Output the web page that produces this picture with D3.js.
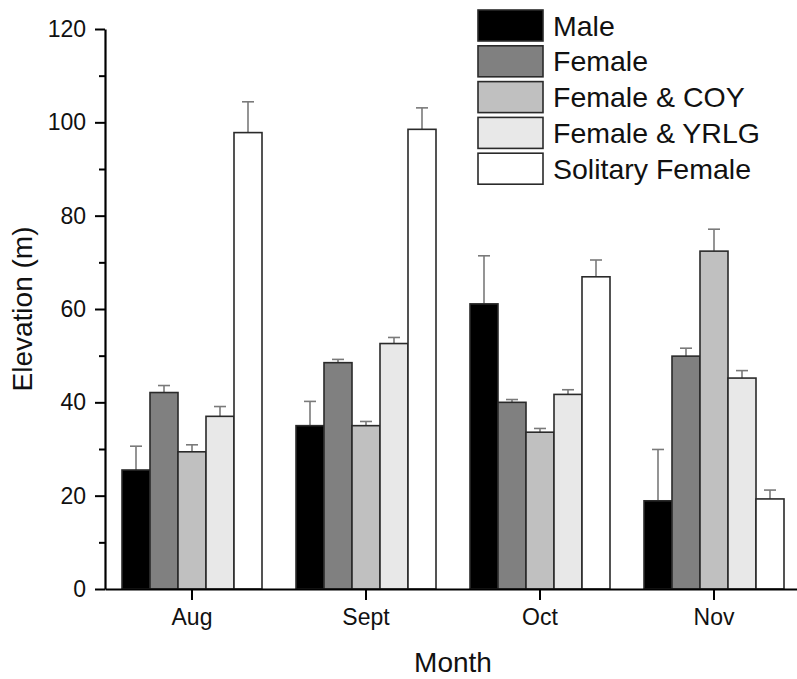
<!DOCTYPE html>
<html><head><meta charset="utf-8">
<script src="https://cdnjs.cloudflare.com/ajax/libs/d3/7.8.5/d3.min.js"></script>
<style>html,body{margin:0;padding:0;background:#fff;}svg{display:block;font-family:"Liberation Sans",Arial,sans-serif;}</style>
</head><body><svg id="c" width="797" height="679"></svg>
<script>
const months = ["Aug", "Sept", "Oct", "Nov"];
const seriesNames = ["Male", "Female", "Female & COY", "Female & YRLG", "Solitary Female"];
const seriesColors = ["#000000", "#808080", "#c0c0c0", "#e8e8e8", "#ffffff"];
const male = [25.5, 35.0, 61.1, 18.9];
const maleErr = [5.1, 5.2, 10.3, 11.0];
const female = [42.1, 48.5, 40.0, 49.9];
const femaleErr = [1.5, 0.7, 0.6, 1.7];
const femaleCoy = [29.4, 35.0, 33.6, 72.4];
const femaleCoyErr = [1.5, 0.9, 0.8, 4.7];
const femaleYrlg = [37.0, 52.6, 41.7, 45.2];
const femaleYrlgErr = [2.1, 1.3, 1.0, 1.6];
const solitary = [97.8, 98.5, 66.9, 19.3];
const solitaryErr = [6.6, 4.6, 3.6, 1.9];
const yTicks = [0, 20, 40, 60, 80, 100, 120];
const yMinorTicks = [10, 30, 50, 70, 90, 110];

const values = [male, female, femaleCoy, femaleYrlg, solitary];
const errors = [maleErr, femaleErr, femaleCoyErr, femaleYrlgErr, solitaryErr];

const svg = d3.select("#c");
const mLeft = 105, mRight = 801, mTop = 29, mBottom = 589;

const x = d3.scaleBand().domain(months).range([mLeft, mRight]).padding(0);
const groupW = 140;
const xs = d3.scaleBand().domain(seriesNames).range([0, groupW]).padding(0);
const y = d3.scaleLinear().domain([0, 120]).range([mBottom, mTop]);

// bars
months.forEach((m, mi) => {
  const gx = x(m) + x.bandwidth() / 2 - groupW / 2;
  seriesNames.forEach((s, si) => {
    const v = values[si][mi], e = errors[si][mi];
    const bx = gx + xs(s), bw = xs.bandwidth();
    const cx = bx + bw / 2;
    svg.append("line").attr("x1", cx).attr("x2", cx).attr("y1", y(v)).attr("y2", y(v + e))
      .attr("stroke", "#7a7a7a").attr("stroke-width", 1.6);
    svg.append("line").attr("x1", cx - 6).attr("x2", cx + 6).attr("y1", y(v + e)).attr("y2", y(v + e))
      .attr("stroke", "#7a7a7a").attr("stroke-width", 1.6);
    svg.append("rect").attr("x", bx).attr("y", y(v)).attr("width", bw).attr("height", y(0) - y(v))
      .attr("fill", seriesColors[si]).attr("stroke", "#2a2a2a").attr("stroke-width", 1.6);
  });
});

// y axis
const yAxis = svg.append("g").attr("transform", `translate(${mLeft},0)`)
  .call(d3.axisLeft(y).tickValues(yTicks).tickSize(10).tickPadding(9).tickSizeOuter(0));
yAxis.selectAll(".tick text").attr("font-size", 23).attr("fill", "#111").attr("font-family", "Liberation Sans, Arial, sans-serif");
yAxis.selectAll(".tick line").attr("stroke-width", 2);
yAxis.select(".domain").attr("stroke-width", 2.2);
svg.append("g").attr("transform", `translate(${mLeft},0)`)
  .call(d3.axisLeft(y).tickValues(yMinorTicks).tickSize(6).tickFormat(""))
  .call(g => g.select(".domain").remove())
  .selectAll(".tick line").attr("stroke-width", 2);

// x axis
const xAxis = svg.append("g").attr("transform", `translate(0,${mBottom})`)
  .call(d3.axisBottom(x).tickSize(11).tickPadding(9).tickSizeOuter(0));
xAxis.selectAll(".tick text").attr("font-size", 23).attr("fill", "#111").attr("font-family", "Liberation Sans, Arial, sans-serif");
xAxis.selectAll(".tick line").attr("stroke-width", 2);
xAxis.select(".domain").attr("stroke-width", 2.2);

// axis titles
svg.append("text").attr("x", (mLeft + mRight) / 2).attr("y", 672).attr("text-anchor", "middle")
  .attr("font-size", 28).attr("fill", "#111").text("Month");
svg.append("text").attr("transform", `translate(32,${(mTop + mBottom) / 2}) rotate(-90)`)
  .attr("text-anchor", "middle").attr("font-size", 28).attr("fill", "#111").text("Elevation (m)");

// legend
const legend = svg.append("g");
seriesNames.forEach((s, i) => {
  const ly = 10 + i * 35.8;
  legend.append("rect").attr("x", 478).attr("y", ly).attr("width", 65).attr("height", 31)
    .attr("fill", seriesColors[i]).attr("stroke", "#2a2a2a").attr("stroke-width", 1.6);
  legend.append("text").attr("x", 553).attr("y", ly + 25.5).attr("font-size", 28.5).attr("fill", "#111").text(s);
});
</script></body></html>
